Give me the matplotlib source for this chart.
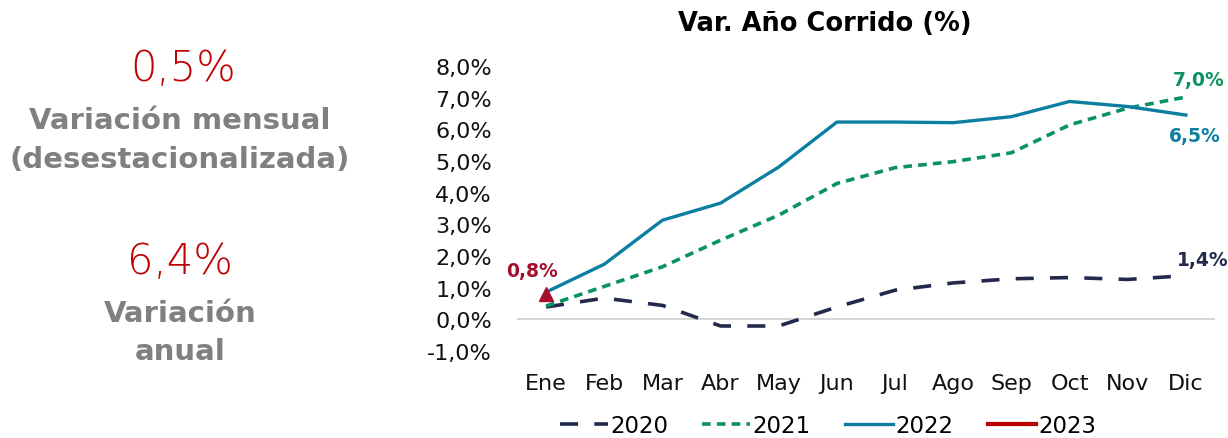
import numpy as np
import matplotlib
matplotlib.use("Agg")
import matplotlib.pyplot as plt

plt.rcParams['font.family'] = ['DejaVu Sans']

months = ["Ene", "Feb", "Mar", "Abr", "May", "Jun", "Jul", "Ago", "Sep", "Oct", "Nov", "Dic"]
y2020 = [0.39, 0.67, 0.44, -0.21, -0.21, 0.39, 0.92, 1.15, 1.28, 1.32, 1.26, 1.38]
y2021 = [0.42, 1.04, 1.66, 2.50, 3.29, 4.29, 4.79, 4.98, 5.26, 6.14, 6.67, 7.02]
y2022 = [0.86, 1.74, 3.13, 3.67, 4.81, 6.23, 6.23, 6.21, 6.40, 6.88, 6.72, 6.45]
y2023 = [0.80]
yticks = [-1, 0, 1, 2, 3, 4, 5, 6, 7, 8]

navy = "#22294D"
green = "#0A9260"
teal = "#0C7FA0"
red = "#C00000"
dred = "#A50F2D"
gray = "#808080"

fig = plt.figure(figsize=(12.28, 4.39), dpi=100)
ax = fig.add_axes([517 / 1228, 1 - 352 / 439, (1215 - 517) / 1228, (352 - 67) / 439])

x = np.arange(len(months))
ax.plot(x, y2020, color=navy, lw=2.6, dashes=(5, 4.5), label="2020")
ax.plot(x, y2021, color=green, lw=2.6, dashes=(2.4, 1.7), label="2021")
ax.plot(x, y2022, color=teal, lw=2.4, label="2022")
ax.plot(x[:1], y2023, color=red, lw=3, marker="^", markersize=10,
        markerfacecolor=dred, markeredgecolor=dred, label="2023")

ax.set_xlim(-0.5, 11.5)
ax.set_ylim(-1, 8)
ax.set_yticks(yticks)
ax.set_yticklabels([f"{v:.1f}%".replace(".", ",") for v in yticks])
ax.set_xticks(x)
ax.set_xticklabels(months)
ax.tick_params(axis="both", length=0, labelsize=16, colors="#111111")
ax.tick_params(axis="x", pad=16)
ax.tick_params(axis="y", pad=18)
for s in ax.spines.values():
    s.set_visible(False)
ax.axhline(0, color="#D0D0D0", lw=1.2, zorder=0)

fig.text(825 / 1228, 1 - 24 / 439, "Var. Año Corrido (%)", fontsize=18.5, fontweight="bold",
         ha="center", va="center")

ax.annotate("0,8%", (0, y2023[0]), xytext=(-10, 10), textcoords="offset points",
            ha="center", va="bottom", color=dred, fontsize=13.5, fontweight="bold")
ax.annotate("7,0%", (11, y2021[-1]), xytext=(9, 6), textcoords="offset points",
            ha="center", va="bottom", color=green, fontsize=13.5, fontweight="bold")
ax.annotate("6,5%", (11, y2022[-1]), xytext=(6, -8), textcoords="offset points",
            ha="center", va="top", color=teal, fontsize=13.5, fontweight="bold")
ax.annotate("1,4%", (11, y2020[-1]), xytext=(12, 5), textcoords="offset points",
            ha="center", va="bottom", color=navy, fontsize=13.5, fontweight="bold")

leg = fig.legend(*ax.get_legend_handles_labels(), loc="center", bbox_to_anchor=(828 / 1228, 1 - 427 / 439),
                 ncol=4, frameon=False, fontsize=16.5, handlelength=2.1, handletextpad=0.1,
                 columnspacing=1.5, borderaxespad=0)
for h in leg.legend_handles:
    h.set_marker("")

fig.text(183 / 1228, 1 - 68 / 439, "0,5%", color=red, fontsize=30, fontweight="light",
         ha="center", va="center")
fig.text(180 / 1228, 1 - 121 / 439, "Variación mensual", color=gray, fontsize=21,
         fontweight="bold", ha="center", va="center")
fig.text(180 / 1228, 1 - 160 / 439, "(desestacionalizada)", color=gray, fontsize=21,
         fontweight="bold", ha="center", va="center")
fig.text(180 / 1228, 1 - 262 / 439, "6,4%", color=red, fontsize=30, fontweight="light",
         ha="center", va="center")
fig.text(180 / 1228, 1 - 314 / 439, "Variación", color=gray, fontsize=21,
         fontweight="bold", ha="center", va="center")
fig.text(180 / 1228, 1 - 352 / 439, "anual", color=gray, fontsize=21,
         fontweight="bold", ha="center", va="center")

fig.savefig("out.png", dpi=100)
